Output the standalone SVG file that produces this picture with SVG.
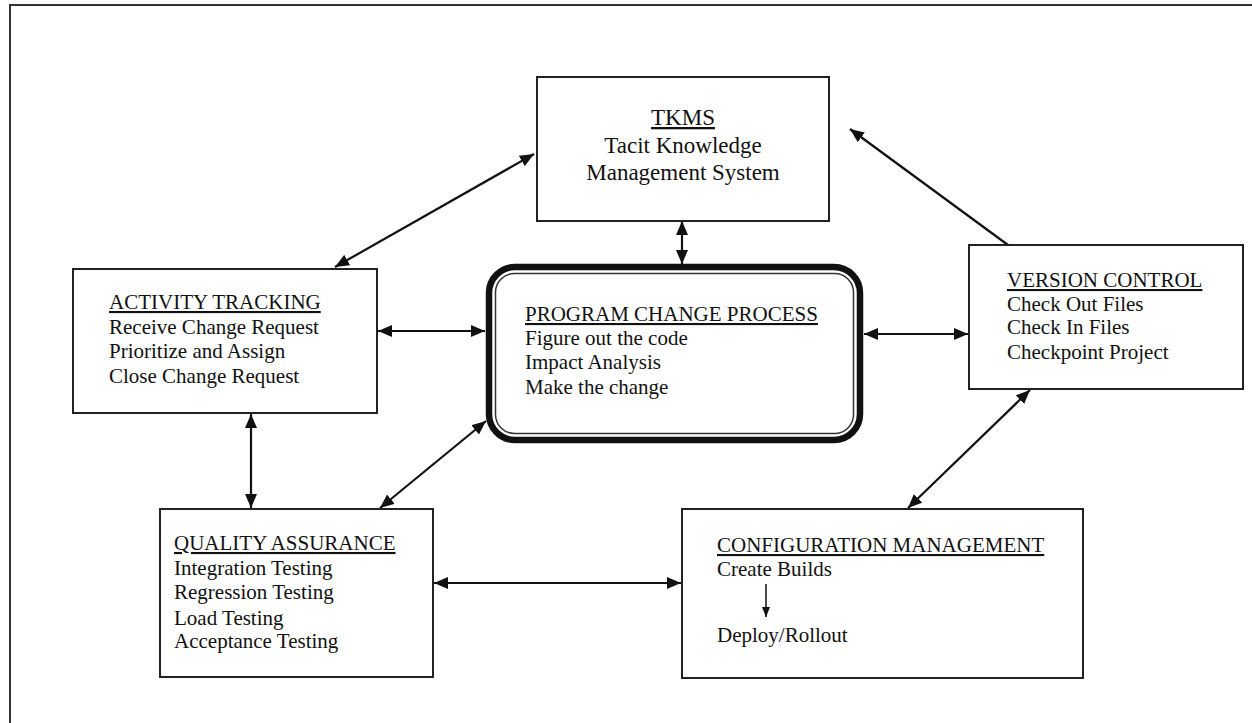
<svg xmlns="http://www.w3.org/2000/svg" width="1252" height="723" viewBox="0 0 1252 723">
<defs>
<marker id="ah" viewBox="0 0 14 12" refX="14" refY="6" markerWidth="14" markerHeight="12" markerUnits="userSpaceOnUse" orient="auto-start-reverse">
<path d="M0,0 L14,6 L0,12 Z" fill="#111"/>
</marker>
<marker id="ahs" viewBox="0 0 10 8" refX="10" refY="4" markerWidth="10" markerHeight="9" markerUnits="userSpaceOnUse" orient="auto">
<path d="M0,0 L10,4 L0,8 Z" fill="#111"/>
</marker>
</defs>
<style>
.box{fill:#fff;stroke:#222;stroke-width:2}
.t{font-family:"Liberation Serif","Times New Roman",serif;font-size:21px;fill:#111}
.tk{font-family:"Liberation Serif","Times New Roman",serif;font-size:23px;fill:#111}
.u{text-decoration:underline}
.c{fill:none;stroke:#111;stroke-width:2.2}
</style>
<rect width="1252" height="723" fill="#fff"/>
<path d="M10,723 V5 H1252" fill="none" stroke="#333" stroke-width="2"/>

<g id="connectors">
<line class="c" x1="335" y1="267" x2="534" y2="154" marker-start="url(#ah)" marker-end="url(#ah)"/>
<line class="c" x1="682" y1="221" x2="682" y2="264" marker-start="url(#ah)" marker-end="url(#ah)"/>
<line class="c" x1="1008" y1="245" x2="850" y2="129" marker-end="url(#ah)"/>
<line class="c" x1="378" y1="331" x2="485" y2="331" marker-start="url(#ah)" marker-end="url(#ah)"/>
<line class="c" x1="864" y1="334" x2="968" y2="334" marker-start="url(#ah)" marker-end="url(#ah)"/>
<line class="c" x1="251" y1="414" x2="251" y2="508" marker-start="url(#ah)" marker-end="url(#ah)"/>
<line class="c" x1="486" y1="421" x2="380" y2="508" marker-start="url(#ah)" marker-end="url(#ah)"/>
<line class="c" x1="434" y1="583" x2="681" y2="583" marker-start="url(#ah)" marker-end="url(#ah)"/>
<line class="c" x1="1030" y1="390" x2="908" y2="508" marker-start="url(#ah)" marker-end="url(#ah)"/>
</g>

<g id="tkms">
<rect class="box" x="537" y="77" width="292" height="144"/>
<text class="tk u" x="683" y="125" text-anchor="middle">TKMS</text>
<text class="tk" x="683" y="153" text-anchor="middle">Tacit Knowledge</text>
<text class="tk" x="683" y="180" text-anchor="middle">Management System</text>
</g>

<g id="activity-tracking">
<rect class="box" x="73" y="269" width="304" height="144"/>
<text class="t u" x="109" y="309">ACTIVITY TRACKING</text>
<text class="t" x="109" y="334">Receive Change Request</text>
<text class="t" x="109" y="358">Prioritize and Assign</text>
<text class="t" x="109" y="383">Close Change Request</text>
</g>

<g id="program-change-process">
<rect x="489" y="267" width="371" height="173" rx="26" fill="#fff" stroke="#111" stroke-width="6.5"/>
<rect x="495.5" y="273.5" width="358" height="160" rx="19" fill="#fff" stroke="#333" stroke-width="1.5"/>
<text class="t u" x="525" y="321">PROGRAM CHANGE PROCESS</text>
<text class="t" x="525" y="345">Figure out the code</text>
<text class="t" x="525" y="369">Impact Analysis</text>
<text class="t" x="525" y="394">Make the change</text>
</g>

<g id="version-control">
<rect class="box" x="969" y="245" width="274" height="144"/>
<text class="t u" x="1007" y="287">VERSION CONTROL</text>
<text class="t" x="1007" y="311">Check Out Files</text>
<text class="t" x="1007" y="334">Check In Files</text>
<text class="t" x="1007" y="359">Checkpoint Project</text>
</g>

<g id="quality-assurance">
<rect class="box" x="160" y="509" width="273" height="168"/>
<text class="t u" x="174" y="550">QUALITY ASSURANCE</text>
<text class="t" x="174" y="575">Integration Testing</text>
<text class="t" x="174" y="599">Regression Testing</text>
<text class="t" x="174" y="625">Load Testing</text>
<text class="t" x="174" y="648">Acceptance Testing</text>
</g>

<g id="configuration-management">
<rect class="box" x="682" y="509" width="401" height="169"/>
<text class="t u" x="717" y="552">CONFIGURATION MANAGEMENT</text>
<text class="t" x="717" y="576">Create Builds</text>
<line x1="766" y1="584" x2="766" y2="617" stroke="#111" stroke-width="1.5" marker-end="url(#ahs)"/>
<text class="t" x="717" y="642">Deploy/Rollout</text>
</g>
</svg>
